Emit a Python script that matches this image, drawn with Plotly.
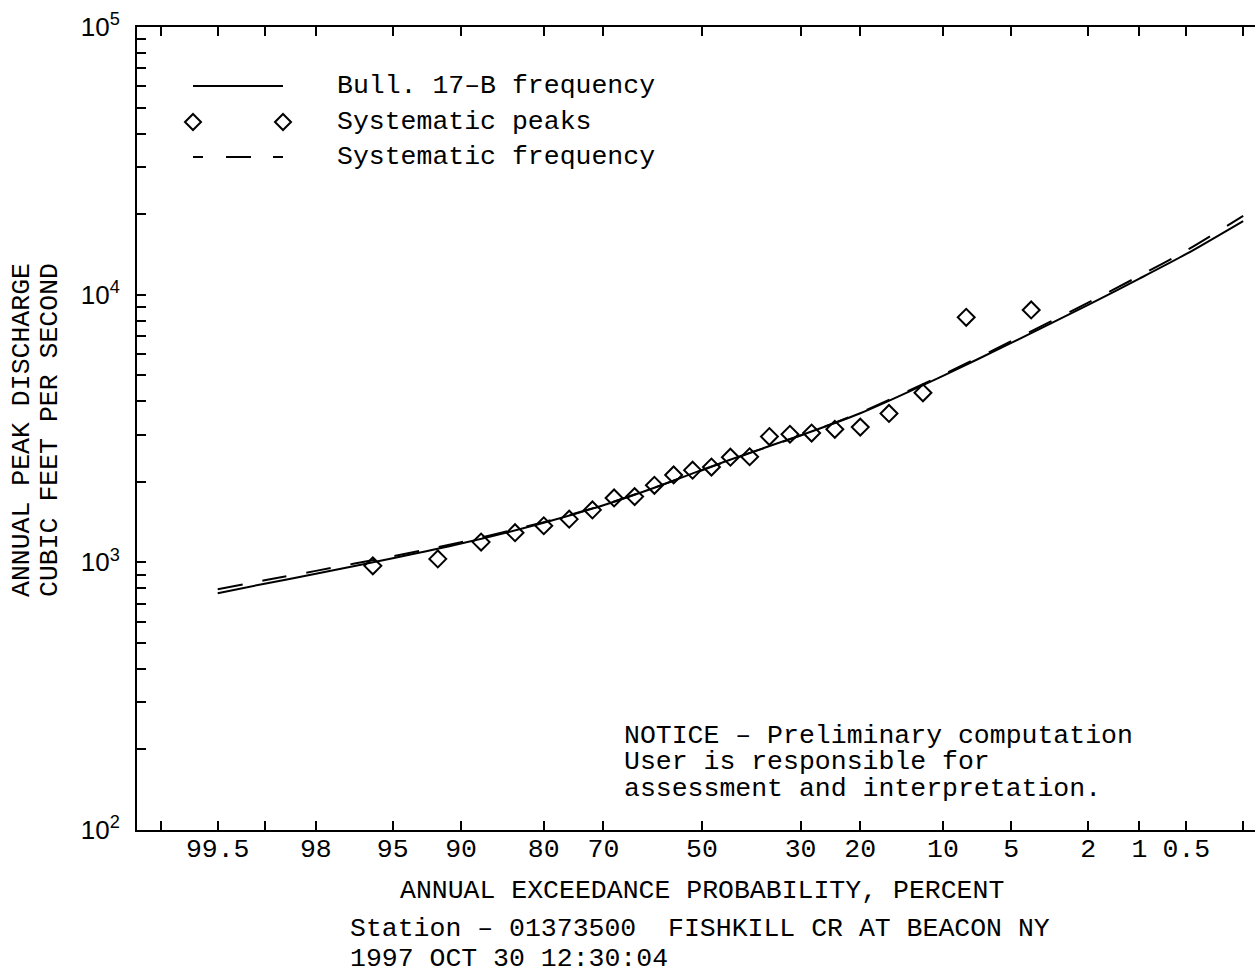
import plotly.graph_objects as go
from statistics import NormalDist

# ---------------- data ----------------
# Systematic peaks: annual exceedance probability (percent) and discharge (cfs)
peak_prob = [4, 8, 12, 16, 20, 24, 28, 32, 36, 40, 44, 48,
             52, 56, 60, 64, 68, 72, 76, 80, 84, 88, 92, 96]
peak_q = [8770, 8230, 4300, 3600, 3200, 3140, 3040, 3010, 2950, 2480, 2470, 2270,
          2210, 2120, 1940, 1760, 1740, 1570, 1450, 1370, 1290, 1190, 1030, 970]

# Frequency curves at selected exceedance probabilities (percent)
curve_prob = [99.5, 99, 98, 95, 90, 80, 70, 60, 50, 40, 30, 20, 10, 5, 2, 1, 0.5, 0.2]
bull17b_q = [767, 832, 906, 1035, 1175, 1405, 1635, 1900, 2215, 2565, 2980, 3605,
             4975, 6605, 9160, 11480, 14190, 18840]
systematic_q = [794, 857, 929, 1054, 1189, 1413, 1637, 1901, 2208, 2559, 2979, 3622,
                5023, 6699, 9333, 11750, 14620, 19680]

# Axis ticks
x_label_prob = [99.5, 98, 95, 90, 80, 70, 50, 30, 20, 10, 5, 2, 1, 0.5]
x_label_text = ["99.5", "98", "95", "90", "80", "70", "50", "30", "20", "10",
                "5", "2", "1", "0.5"]
x_minor_prob = [99.8, 99, 0.2]
y_decades = [2, 3, 4, 5]
y_minor_mult = [2, 3, 4, 5, 6, 7, 8, 9]

# ---------------- helpers ----------------
ND = NormalDist()


def pz(p):
    """probability-scale coordinate (standard normal quantile) of exceedance percent p"""
    return ND.inv_cdf(1 - p / 100.0)


W, H = 1255, 973
ML, MR, MT, MB = 137, 0, 27, 143
PW, PH = W - ML - MR, H - MT - MB


def px(x):
    return (x - ML) / PW


def py(y):
    return (H - MB - y) / PH


MONO = "Liberation Mono"
FS = 26.5

y_tickvals = [10 ** d for d in y_decades]
y_ticktext = ["10<sup>%d</sup>" % d for d in y_decades]
y_minorvals = [m * 10 ** d for d in y_decades[:-1] for m in y_minor_mult]

fig = go.Figure()

fig.add_trace(go.Scatter(
    x=[pz(p) for p in curve_prob], y=systematic_q, mode="lines",
    line=dict(color="black", width=2, dash="25px,20px", shape="spline", smoothing=0.6),
    name="Systematic frequency", showlegend=False, hoverinfo="skip"))

fig.add_trace(go.Scatter(
    x=[pz(p) for p in curve_prob], y=bull17b_q, mode="lines",
    line=dict(color="black", width=2, shape="spline", smoothing=0.6),
    name="Bull. 17-B frequency", showlegend=False))

fig.add_trace(go.Scatter(
    x=[pz(p) for p in peak_prob], y=peak_q, mode="markers",
    marker=dict(symbol="diamond-open", size=13, color="black", line=dict(width=2, color="black")),
    name="Systematic peaks", showlegend=False))

# ---------------- manual legend ----------------
shapes = [
    dict(type="line", xref="paper", yref="paper", x0=px(193), x1=px(283), y0=py(86), y1=py(86),
         line=dict(color="black", width=2)),
    dict(type="line", xref="paper", yref="paper", x0=px(193), x1=px(283), y0=py(157), y1=py(157),
         line=dict(color="black", width=2, dash="10px,23px,25px,22px,10px")),
]
for cx in (193, 283):
    shapes.append(dict(type="path", xref="paper", yref="paper", xsizemode="pixel", ysizemode="pixel",
                       xanchor=px(cx), yanchor=py(122),
                       path="M -8 0 L 0 8 L 8 0 L 0 -8 Z",
                       line=dict(color="black", width=2), fillcolor="rgba(0,0,0,0)"))

ann = []


def text(x, y, s, anchor="left", angle=0, size=FS, font=MONO):
    ann.append(dict(xref="paper", yref="paper", x=px(x), y=py(y), text=s, showarrow=False,
                    xanchor=anchor, yanchor="middle", textangle=angle,
                    font=dict(family=font, size=size, color="black")))


text(335, 86, "Bull. 17–B frequency")
text(335, 122, "Systematic peaks")
text(335, 157, "Systematic frequency")

text(622, 736, "NOTICE – Preliminary computation")
text(622, 762, "User is responsible for")
text(622, 789, "assessment and interpretation.")

text(702, 891, "ANNUAL EXCEEDANCE PROBABILITY, PERCENT", anchor="center")
text(348, 929, "Station – 01373500  FISHKILL CR AT BEACON NY")
text(348, 959, "1997 OCT 30 12:30:04")

text(22, 430, "ANNUAL PEAK DISCHARGE", anchor="center", angle=-90)
text(50, 430, "CUBIC FEET PER SECOND", anchor="center", angle=-90)

tick_style = dict(ticks="inside", ticklen=9, tickwidth=2, tickcolor="black")

fig.update_layout(
    width=W, height=H,
    margin=dict(l=ML, r=MR, t=MT, b=MB, pad=0),
    paper_bgcolor="white", plot_bgcolor="white",
    showlegend=False,
    shapes=shapes, annotations=ann,
    xaxis=dict(range=[-3.005, 2.941], tickmode="array",
               tickvals=[pz(p) for p in x_label_prob], ticktext=x_label_text,
               minor=dict(tickmode="array", tickvals=[pz(p) for p in x_minor_prob], **tick_style),
               showline=True, linecolor="black", linewidth=2, mirror="allticks",
               showgrid=False, zeroline=False, ticklabelstandoff=-7,
               tickfont=dict(family=MONO, size=FS, color="black"), **tick_style),
    yaxis=dict(type="log", range=[2, 5], tickmode="array",
               tickvals=y_tickvals, ticktext=y_ticktext,
               minor=dict(tickmode="array", tickvals=y_minorvals, **tick_style),
               showline=True, linecolor="black", linewidth=2,
               showgrid=False, zeroline=False, ticklabelstandoff=10,
               tickfont=dict(family="Liberation Sans", size=26, color="black"), **tick_style),
)

fig.write_html("out.html", config={"displayModeBar": False},
               post_script="document.body.style.margin='0px';")
